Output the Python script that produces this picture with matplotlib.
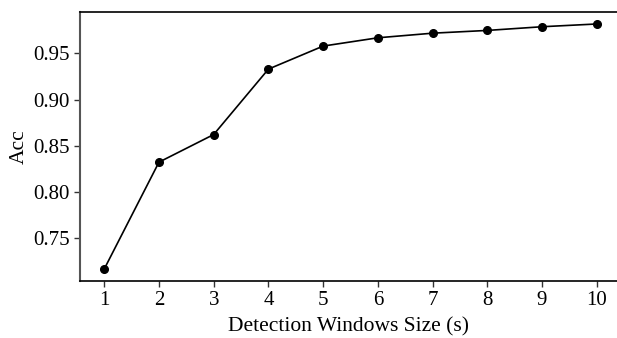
import numpy as np
import matplotlib
matplotlib.use("Agg")
import matplotlib.pyplot as plt

# window size (s) vs accuracy
window_size = [1, 2, 3, 4, 5, 6, 7, 8, 9, 10]
acc = [0.716, 0.832, 0.862, 0.933, 0.958, 0.967, 0.972, 0.975, 0.979, 0.982]
y_ticks = [0.75, 0.80, 0.85, 0.90, 0.95]

plt.rcParams['font.family'] = ['Liberation Serif', 'DejaVu Serif']

fig = plt.figure(figsize=(6.17, 3.38), dpi=100)
ax = fig.add_axes([80/617, 57/338, 537/617, 269/338])

ax.plot(window_size, acc, color="black", linewidth=1.2, marker="o", markersize=5.5)

ax.set_xlim(0.557, 10.37)
ax.set_ylim(0.703, 0.995)
ax.set_xticks(window_size)
ax.set_yticks(y_ticks)
ax.set_yticklabels(["%.2f" % v for v in y_ticks])

ax.spines['right'].set_visible(False)
ax.spines['left'].set_color("#555555")
ax.spines['left'].set_linewidth(1.5)
ax.spines['bottom'].set_linewidth(1.2)
ax.spines['top'].set_linewidth(1.2)
ax.tick_params(direction="out", length=4, width=1, colors="#333333", labelcolor="black", labelsize=15)

ax.set_xlabel("Detection Windows Size (s)", fontsize=15.5, labelpad=5)
ax.set_ylabel("Acc", fontsize=15.5, labelpad=3)

fig.savefig("out.png", dpi=100)
